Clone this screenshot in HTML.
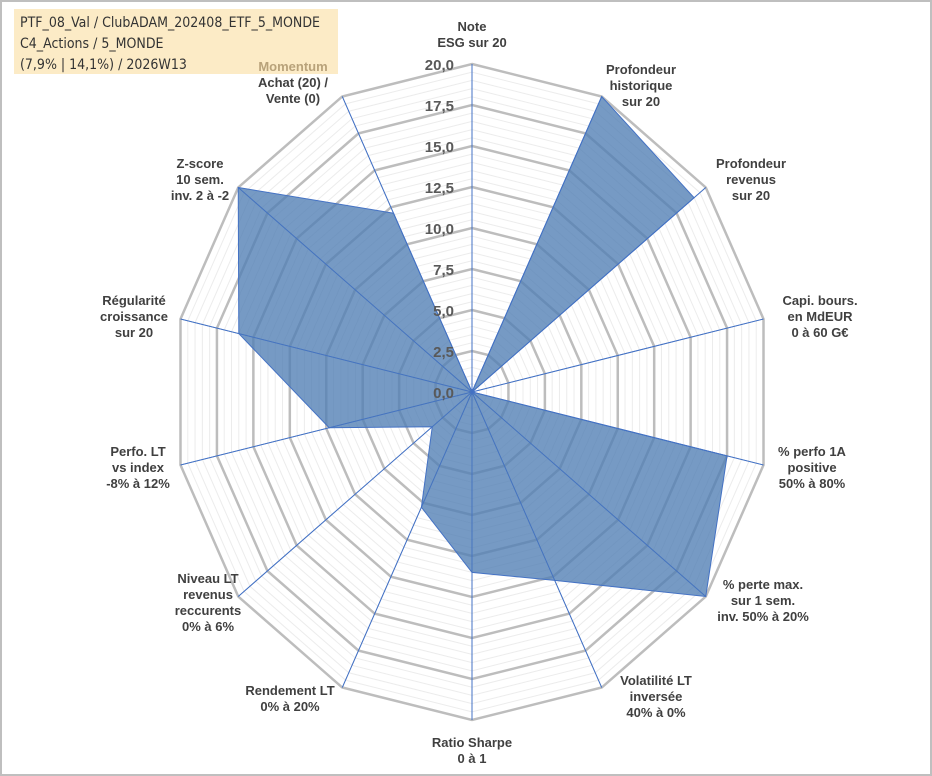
<!DOCTYPE html>
<html><head><meta charset="utf-8"><style>
html,body{margin:0;padding:0;background:#fff;}
svg{display:block;font-family:"Liberation Sans",sans-serif;}
</style></head><body>
<svg id="chart" width="932" height="776" viewBox="0 0 932 776">
<rect x="1" y="1" width="930" height="774" fill="#fff" stroke="#bfbfbf" stroke-width="2"/>
<g id="grid"></g><g id="series"></g><g id="ticks"></g>
<g>
<rect x="14" y="9" width="324" height="65" fill="#fcebc6"/>
<text x="20" y="27" font-size="14" fill="#333" font-family="'DejaVu Sans Condensed','Liberation Sans Narrow','Liberation Sans',sans-serif">PTF_08_Val / ClubADAM_202408_ETF_5_MONDE</text>
<text x="20" y="48" font-size="14" fill="#333" font-family="'DejaVu Sans Condensed','Liberation Sans Narrow','Liberation Sans',sans-serif">C4_Actions / 5_MONDE</text>
<text x="20" y="69" font-size="14" fill="#333" font-family="'DejaVu Sans Condensed','Liberation Sans Narrow','Liberation Sans',sans-serif">(7,9% | 14,1%) / 2026W13</text>
</g>
<g id="labels"></g>
</svg>
<script>
const categories=[
["Note","ESG sur 20"],
["Profondeur","historique","sur 20"],
["Profondeur","revenus","sur 20"],
["Capi. bours.","en MdEUR","0 à 60 G€"],
["% perfo 1A","positive","50% à 80%"],
["% perte max.","sur 1 sem.","inv. 50% à 20%"],
["Volatilité LT","inversée","40% à 0%"],
["Ratio Sharpe","0 à 1"],
["Rendement LT","0% à 20%"],
["Niveau LT","revenus","reccurents","0% à 6%"],
["Perfo. LT","vs index","-8% à 12%"],
["Régularité","croissance","sur 20"],
["Z-score","10 sem.","inv. 2 à -2"],
["Momentum","Achat (20) /","Vente (0)"]
];
const values=[0,20,19,0,17.5,20,12.75,11.0,7.8,3.4,9.8,16,20,12.1];
const tickLabels=["0,0","2,5","5,0","7,5","10,0","12,5","15,0","17,5","20,0"];
const tickValues=[0,2.5,5,7.5,10,12.5,15,17.5,20];
const labelPos=[[472,27],[641,70],[751,164],[820,301],[812,452],[763,585],[656,681],[472,743],[290,691],[208,579],[138,452],[134,301],[200,164],[293,67]];
const cx=472,cy=392,RX=299,RY=328,maxV=20,N=categories.length;
const NS="http://www.w3.org/2000/svg";
function ang(i){return i*2*Math.PI/N;}
function pt(i,v){const t=v/maxV;return [cx+t*RX*Math.sin(ang(i)),cy-t*RY*Math.cos(ang(i))];}
function mk(t,a,p){const e=document.createElementNS(NS,t);for(const k in a)e.setAttribute(k,a[k]);p.appendChild(e);return e;}
const grid=document.getElementById('grid');
for(let v=0.5;v<=20.001;v+=0.5){
 const major=Math.abs(v/2.5-Math.round(v/2.5))<1e-6;
 const pts=[];for(let i=0;i<N;i++)pts.push(pt(i,v).join(','));
 const g=mk('polygon',{points:pts.join(' '),fill:'none',stroke:major?'#bdbdbd':'#ececec','stroke-width':major?2.5:1},grid);
 
 
}
for(let i=0;i<N;i++){
 const p=pt(i,20);
 const l=mk('line',{x1:cx,y1:cy,x2:p[0],y2:p[1],stroke:'#4472c4','stroke-width':1},grid);
 
 
}
const ser=document.getElementById('series');
const sp=values.map((v,i)=>pt(i,v).join(',')).join(' ');
const poly=mk('polygon',{points:sp,fill:'#4f7db3','fill-opacity':0.78,stroke:'#4472c4','stroke-width':1},ser);


for(let i=0;i<N;i++){
 const p=pt(i,20);
 const l=mk('line',{x1:cx,y1:cy,x2:p[0],y2:p[1],stroke:'#4472c4','stroke-width':0.8,'stroke-opacity':0.8},ser);
 
 
}
const tk=document.getElementById('ticks');
tickValues.forEach((v,k)=>{
 const y=cy-v/maxV*RY;
 const t=mk('text',{x:454,y:y+6,'text-anchor':'end','font-size':15,'font-weight':'bold',fill:'#595959'},tk);
 t.textContent=tickLabels[k];
 
 
});
const lb=document.getElementById('labels');
categories.forEach((lines,i)=>{
 const [x,y]=labelPos[i];
 const t=mk('text',{'text-anchor':'middle','font-size':13,'font-weight':'bold',fill:'#404040'},lb);
 
 
 lines.forEach((s,j)=>{
  const ts=mk('tspan',{x:x,y:y+j*16+4},t);
  if(i===13&&j===0){ts.setAttribute('fill','#b8a27a');}
  ts.textContent=s;
 });
});
</script>
</body></html>
